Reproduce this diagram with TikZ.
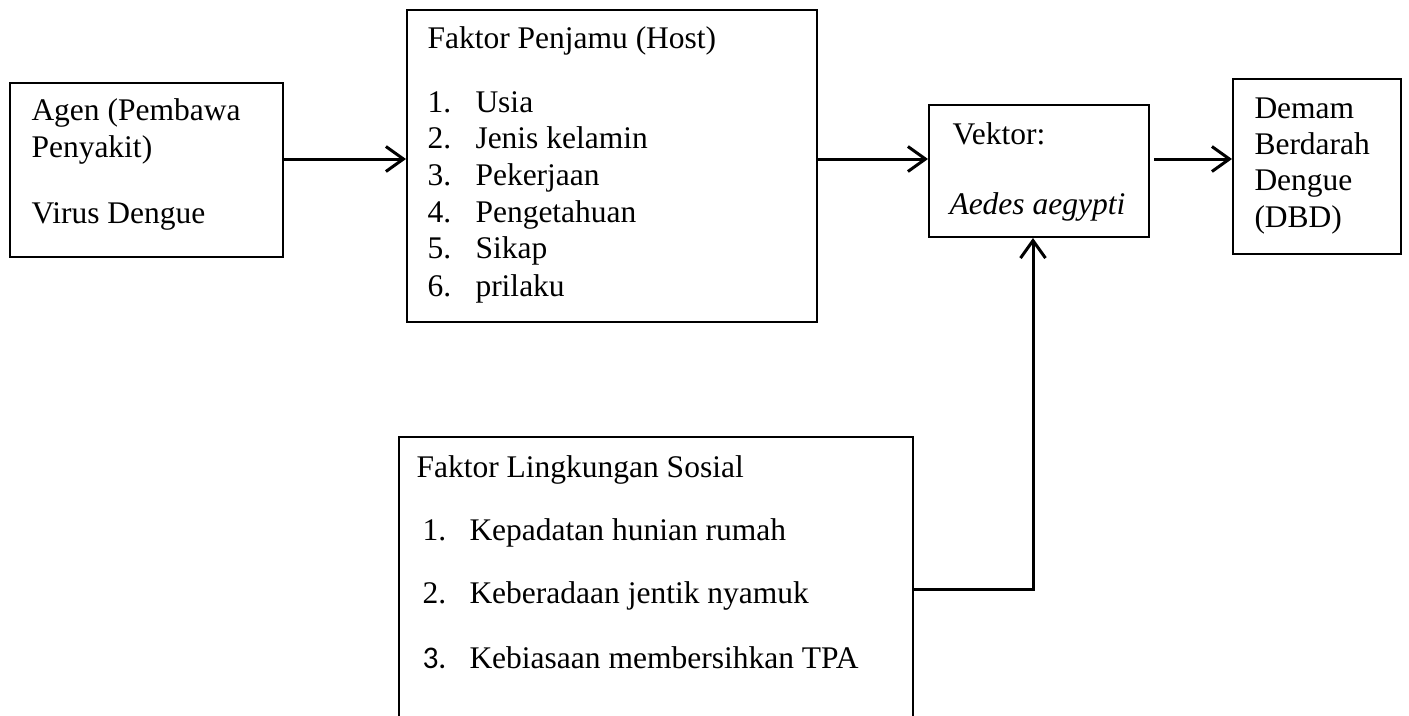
\documentclass[tikz,border=0pt]{standalone}
\usepackage{fontspec}
\setmainfont{Liberation Serif}
\newfontfamily\calibrifont{Carlito}
\usetikzlibrary{arrows.meta,positioning}

\begin{document}
\begin{tikzpicture}[x=0.4pt,y=-0.4pt,>={Straight Barb[length=7pt,width=10pt]},
                    font=\fontsize{12.6}{14}\selectfont]
  \tikzstyle{box}=[rectangle,draw=black,line width=0.8pt,fill=white,inner sep=0pt]
  \tikzstyle{txt}=[anchor=base west,inner sep=0pt]
  \tikzstyle{link}=[->,line width=1.2pt]

  \useasboundingbox (0,0) rectangle (1409,715);

  \node[box,minimum width=109.2pt,minimum height=69.6pt] (agen)    at (146.5,170) {};
  \node[box,minimum width=164pt,minimum height=124.8pt]  (penjamu) at (612,166)   {};
  \node[box,minimum width=88pt,minimum height=52.8pt]    (vektor)  at (1039,171)  {};
  \node[box,minimum width=67.2pt,minimum height=70pt]    (dbd)     at (1317,166.5) {};
  \node[box,minimum width=205.6pt,minimum height=121.6pt] (sosial) at (656,589)   {};

  % agen
  \node[txt] (agen1) at (31,120) {Agen (Pembawa};
  \node[txt] (agen2) at (31,157) {Penyakit)};
  \node[txt] (agen3) at (31,223) {Virus Dengue};

  % host
  \node[txt] (hosthead) at (427,48) {Faktor Penjamu (Host)};
  \foreach \n/\t/\y in {1/Usia/112,2/Jenis kelamin/148,3/Pekerjaan/185,
                        4/Pengetahuan/222,5/Sikap/258,6/prilaku/296}{
    \node[txt] (hostnum\n) at (427,\y) {\n.};
    \node[txt] (host\n)    at (475,\y) {\t};
  }

  % vektor
  \node[txt] (vek1) at (952,144) {Vektor:};
  \node[txt] (vek2) at (949,214) {\textit{Aedes aegypti}};

  % dbd
  \node[txt] (dbd1) at (1254,118) {Demam};
  \node[txt] (dbd2) at (1254,154) {Berdarah};
  \node[txt] (dbd3) at (1254,190) {Dengue};
  \node[txt] (dbd4) at (1254,227) {(DBD)};

  % lingkungan sosial
  \node[txt] (soshead) at (416,477) {Faktor Lingkungan Sosial};
  \node[txt] (sosnum1) at (422,540) {1.};
  \node[txt] (sosnum2) at (422,603) {2.};
  \node[txt] (sosnum3) at (422,668) {\calibrifont 3.};
  \node[txt] (sos1) at (469,540) {Kepadatan hunian rumah};
  \node[txt] (sos2) at (469,603) {Keberadaan jentik nyamuk};
  \node[txt] (sos3) at (469,668) {Kebiasaan membersihkan TPA};

  \coordinate (lvl)  at (0,159);
  \coordinate (vbar) at (1033,0);

  \path[link] (agen.east |- lvl) edge (penjamu.west |- lvl)
    (penjamu.east |- lvl) edge (vektor.west |- lvl)
    ([xshift=1.6pt]vektor.east |- lvl) edge (dbd.west |- lvl);
  \draw[link] (sosial.east) -| (vektor.south -| vbar);
\end{tikzpicture}
\end{document}
